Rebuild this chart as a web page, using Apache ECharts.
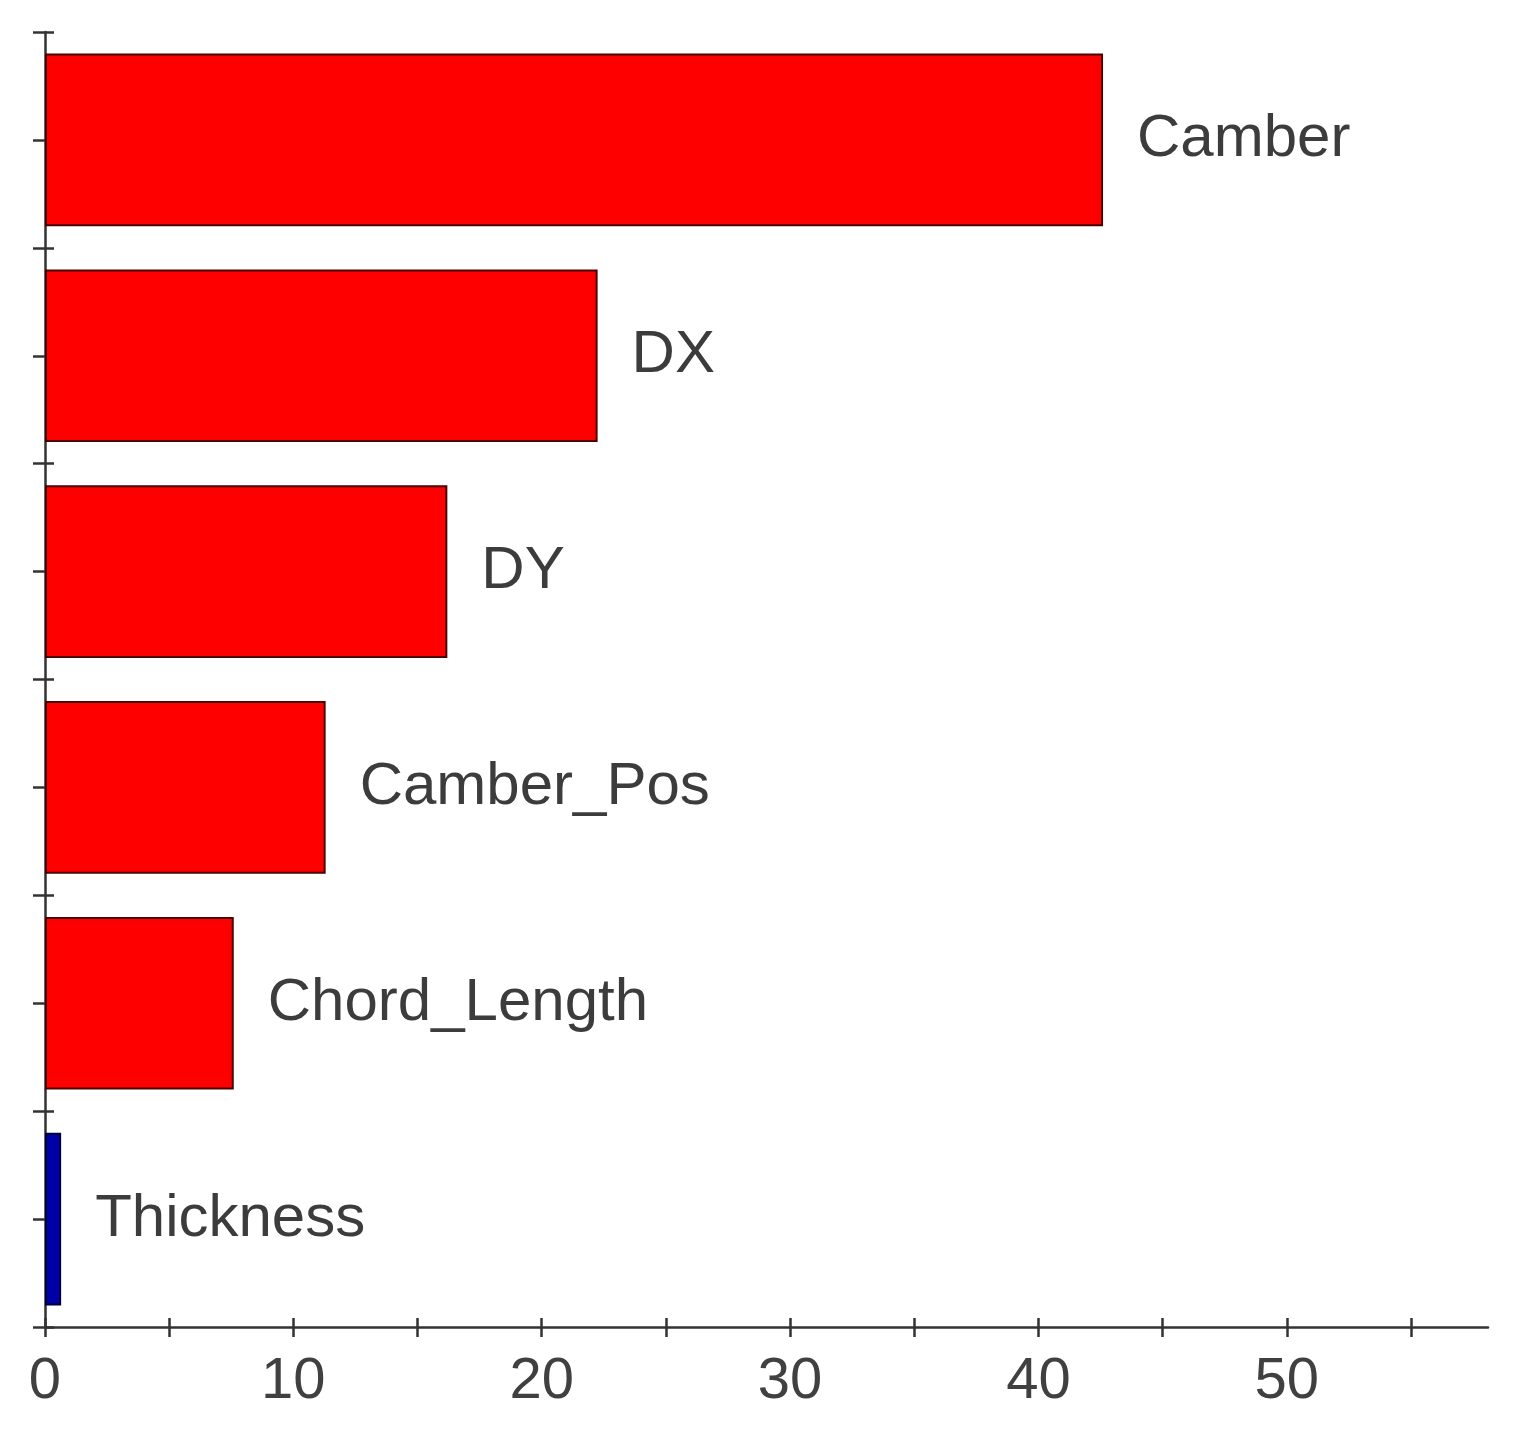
<!DOCTYPE html>
<html>
<head>
<meta charset="utf-8">
<script src="https://cdn.jsdelivr.net/npm/echarts@6/dist/echarts.min.js"></script>
<style>
html,body{margin:0;padding:0;background:#fff;}
#main{width:1531px;height:1440px;}
</style>
</head>
<body>
<div id="main"></div>
<script>
const categories = ['Camber', 'DX', 'DY', 'Camber_Pos', 'Chord_Length', 'Thickness'];
const values = [42.6, 22.25, 16.2, 11.3, 7.6, 0.65];
const barColors = ['#ff0000', '#ff0000', '#ff0000', '#ff0000', '#ff0000', '#0000a8'];
const xTickValues = [0, 5, 10, 15, 20, 25, 30, 35, 40, 45, 50, 55];
const xLabelValues = [0, 10, 20, 30, 40, 50];

const FONT = '"Liberation Sans", Arial, sans-serif';
const AXC = '#333333';
const IN = 9;

function yAx(inner, align, main) {
  return {
    type: 'category', data: categories, inverse: true, position: 'left', offset: inner ? -IN : 0,
    axisLine: { show: main, lineStyle: { color: AXC, width: 2.5 } },
    axisTick: { show: true, alignWithLabel: align, length: inner ? IN : 12, lineStyle: { color: AXC, width: 2.5 } },
    axisLabel: { show: false }, splitLine: { show: false }
  };
}
function xAx(inner, main) {
  return {
    type: 'value', min: 0, max: 58.1, position: 'bottom', offset: inner ? -IN : 0,
    axisLine: { show: main, lineStyle: { color: AXC, width: 2.5 } },
    axisTick: { show: true, length: inner ? IN : 10, customValues: xTickValues, lineStyle: { color: AXC, width: 2.5 } },
    axisLabel: { show: main, customValues: xLabelValues, fontSize: 58, fontFamily: FONT, color: '#404040', margin: 26 },
    splitLine: { show: false }
  };
}
function dummy(xi, yi) {
  return { type: 'scatter', xAxisIndex: xi, yAxisIndex: yi, data: [], silent: true, symbolSize: 0 };
}

const chart = echarts.init(document.getElementById('main'), null, { renderer: 'canvas' });
chart.setOption({
  backgroundColor: '#ffffff',
  animation: false,
  grid: { left: 45, top: 32, right: 43, bottom: 113, containLabel: false },
  xAxis: [xAx(false, true), xAx(true, false)],
  yAxis: [yAx(false, false, true), yAx(true, false, false), yAx(false, true, false), yAx(true, true, false)],
  series: [{
    type: 'bar',
    xAxisIndex: 0, yAxisIndex: 0,
    barCategoryGap: '20%',
    data: values.map((v, i) => ({ value: v, itemStyle: { color: barColors[i], borderColor: i === 5 ? '#00003a' : '#4a0000', borderWidth: 2 } })),
    label: {
      show: true, position: 'right', distance: 34,
      formatter: '{b}', fontSize: 60, fontFamily: FONT, color: '#3c3c3c'
    }
  }, dummy(1, 1), dummy(1, 2), dummy(1, 3)]
});
</script>
</body>
</html>
